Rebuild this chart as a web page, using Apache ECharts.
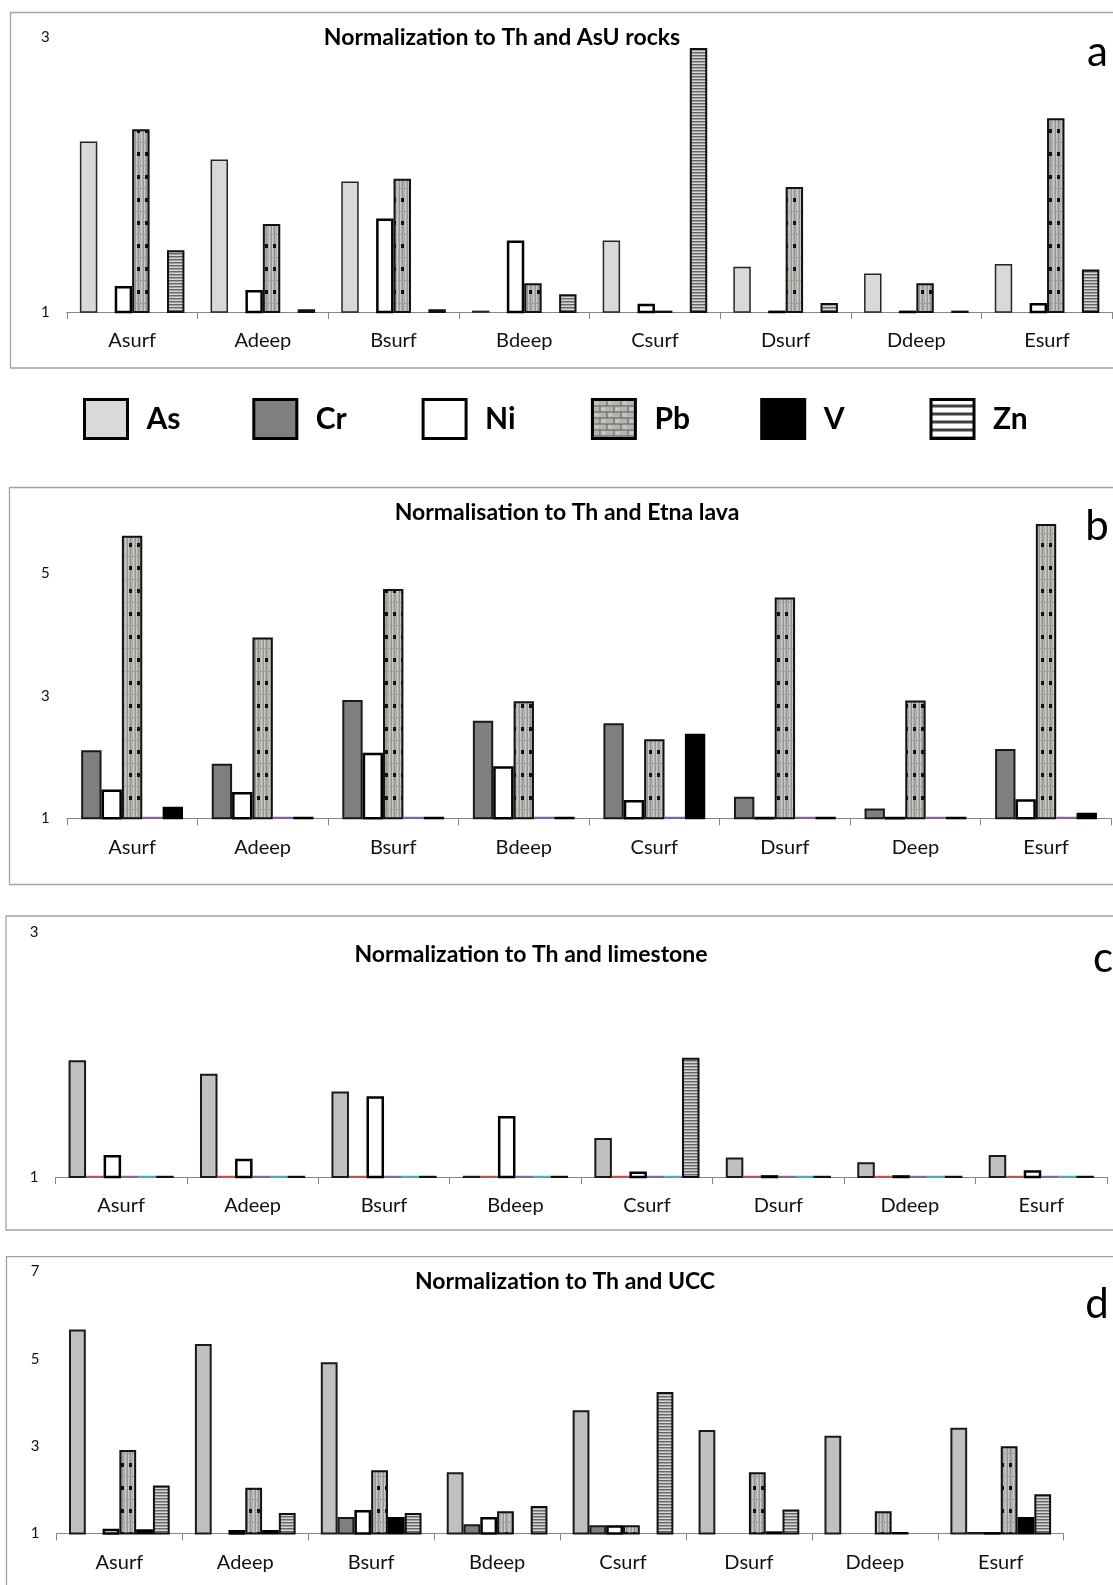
<!DOCTYPE html>
<html>
<head>
<meta charset="utf-8">
<script src="https://cdn.jsdelivr.net/npm/echarts@6/dist/echarts.min.js"></script>
<style>
  html, body { margin: 0; padding: 0; background: #ffffff; }
  #chart { width: 1113px; height: 1585px; }
</style>
</head>
<body>
<div id="chart"></div>
<script>
// ---- Categories (sampling sites) ----
const sitesA = ['Asurf', 'Adeep', 'Bsurf', 'Bdeep', 'Csurf', 'Dsurf', 'Ddeep', 'Esurf'];
const sitesB = ['Asurf', 'Adeep', 'Bsurf', 'Bdeep', 'Csurf', 'Dsurf', 'Deep', 'Esurf'];
const sitesC = ['Asurf', 'Adeep', 'Bsurf', 'Bdeep', 'Csurf', 'Dsurf', 'Ddeep', 'Esurf'];
const sitesD = ['Asurf', 'Adeep', 'Bsurf', 'Bdeep', 'Csurf', 'Dsurf', 'Ddeep', 'Esurf'];

// ---- Value-axis tick labels ----
const ticksA = [1, 3];
const ticksB = [1, 3, 5];
const ticksC = [1, 3];
const ticksD = [1, 3, 5, 7];

// ---- (a) Normalization to Th and AsU rocks ----
const aAs = [2.24, 2.11, 1.95, 1.01, 1.52, 1.33, 1.28, 1.35];
const aCr = [null, null, null, null, null, null, null, null];
const aNi = [1.19, 1.16, 1.68, 1.52, 1.06, 1.01, 1.01, 1.065];
const aPb = [2.33, 1.64, 1.97, 1.21, 1.01, 1.91, 1.21, 2.41];
const aV  = [null, null, null, null, null, null, null, null];
const aZn = [1.45, 1.02, 1.02, 1.13, 2.92, 1.065, 1.01, 1.31];

// ---- (b) Normalisation to Th and Etna lava ----
const bCr = [2.11, 1.89, 2.93, 2.59, 2.55, 1.35, 1.16, 2.13];
const bNi = [1.47, 1.43, 2.07, 1.85, 1.30, 1.025, 1.025, 1.31];
const bPb = [5.61, 3.95, 4.74, 2.91, 2.29, 4.60, 2.92, 5.80];
const bZn = [1.025, 1.025, 1.025, 1.025, 1.025, 1.025, 1.025, 1.025];
const bV  = [1.19, 1.025, 1.025, 1.025, 2.38, 1.025, 1.025, 1.09];

// ---- (c) Normalization to Th and limestone ----
const cAs = [1.955, 1.845, 1.70, 1.01, 1.32, 1.16, 1.12, 1.18];
const cCr = [1.01, 1.01, 1.01, 1.01, 1.01, 1.01, 1.01, 1.01];
const cNi = [1.18, 1.15, 1.66, 1.50, 1.045, 1.015, 1.015, 1.055];
const cPb = [1.01, 1.01, 1.01, 1.01, 1.01, 1.01, 1.01, 1.01];
const cV  = [1.01, 1.01, 1.01, 1.01, 1.01, 1.01, 1.01, 1.01];
const cZn = [1.01, 1.01, 1.01, 1.01, 1.976, 1.01, 1.01, 1.01];

// ---- (d) Normalization to Th and UCC ----
const dAs = [5.67, 5.34, 4.92, 2.40, 3.82, 3.37, 3.24, 3.42];
const dCr = [null, null, 1.38, 1.21, 1.19, null, null, 1.035];
const dNi = [1.11, 1.08, 1.54, 1.38, 1.19, null, null, 1.035];
const dPb = [2.91, 2.05, 2.45, 1.51, 1.19, 2.40, 1.51, 3.00];
const dV  = [1.10, 1.08, 1.38, null, null, 1.05, 1.035, 1.38];
const dZn = [2.10, 1.47, 1.47, 1.63, 4.24, 1.55, null, 1.90];

const elements = ['As', 'Cr', 'Ni', 'Pb', 'V', 'Zn'];

// ---- Fill textures ----
function makeCanvas(w, h) {
  const c = document.createElement('canvas');
  c.width = w; c.height = h;
  return c;
}
// weathered stone with rows of short dark dashes
function stoneTexture() {
  const c = makeCanvas(8, 23);
  const g = c.getContext('2d');
  g.fillStyle = '#adb0ab'; g.fillRect(0, 0, 8, 23);
  g.fillStyle = '#c6c9c4'; g.fillRect(0, 0, 1, 23); g.fillRect(5, 0, 1, 23);
  g.fillStyle = '#91948f'; g.fillRect(2, 0, 1, 23); g.fillRect(7, 0, 1, 23);
  g.fillStyle = '#9a9d98'; g.fillRect(0, 4, 2, 1); g.fillRect(4, 4, 2, 1);
  g.fillStyle = '#111111'; g.fillRect(1, 14, 3, 4);
  return c;
}
function stripeTexture() {
  const c = makeCanvas(4, 3);
  const g = c.getContext('2d');
  g.fillStyle = '#d6d6d6'; g.fillRect(0, 0, 4, 1);
  g.fillStyle = '#666666'; g.fillRect(0, 1, 4, 1);
  g.fillStyle = '#a3a3a3'; g.fillRect(0, 2, 4, 1);
  return c;
}
function brickTexture() {
  const c = makeCanvas(14, 12);
  const g = c.getContext('2d');
  g.fillStyle = '#b3b6b0'; g.fillRect(0, 0, 14, 12);
  g.fillStyle = '#c9ccc6'; g.fillRect(2, 2, 4, 3); g.fillRect(9, 8, 4, 3);
  g.fillStyle = '#5e605c';
  g.fillRect(0, 0, 14, 1); g.fillRect(0, 6, 14, 1);
  g.fillRect(0, 0, 1, 6); g.fillRect(7, 6, 1, 6);
  return c;
}
function bandTexture() {
  const c = makeCanvas(4, 8);
  const g = c.getContext('2d');
  g.fillStyle = '#ffffff'; g.fillRect(0, 0, 4, 8);
  g.fillStyle = '#3f3f3f'; g.fillRect(0, 5, 4, 3);
  return c;
}
const pbFill = { image: stoneTexture(), repeat: 'repeat' };
const znFill = { image: stripeTexture(), repeat: 'repeat' };
const pbKey = { image: brickTexture(), repeat: 'repeat' };
const znKey = { image: bandTexture(), repeat: 'repeat' };

// ---- Bar styles ----
const ST = {
  asLight: { color: '#d9d9d9', borderColor: '#262626', borderWidth: 1.5 },
  asMid:   { color: '#c0c0c0', borderColor: '#1a1a1a', borderWidth: 2 },
  cr:      { color: '#7f7f7f', borderColor: '#1a1a1a', borderWidth: 2 },
  ni:      { color: '#ffffff', borderColor: '#000000', borderWidth: 2.5 },
  pb:      { color: pbFill, borderColor: '#111111', borderWidth: 2 },
  v:       { color: '#000000', borderColor: '#000000', borderWidth: 2 },
  zn:      { color: znFill, borderColor: '#111111', borderWidth: 2 },
  red:     { color: '#c0504d', borderColor: '#c0504d', borderWidth: 1.5 },
  purple:  { color: '#8064a2', borderColor: '#8064a2', borderWidth: 1.5 },
  aqua:    { color: '#4bacc6', borderColor: '#4bacc6', borderWidth: 1.5 }
};

// ---- Panel layout ----
const panels = [
  { grid: { left: 66.8, top: 37, width: 1045.6, height: 275 }, sites: sitesA, min: 1, max: 3, ticks: ticksA, gap: '20%',
    series: [['As', aAs, ST.asLight], ['Cr', aCr, ST.cr], ['Ni', aNi, ST.ni], ['Pb', aPb, ST.pb], ['V', aV, ST.v], ['Zn', aZn, ST.zn]] },
  { grid: { left: 66.8, top: 511.8, width: 1044.5, height: 306.5 }, sites: sitesB, min: 1, max: 6, ticks: ticksB, gap: '22%',
    series: [['Cr', bCr, ST.cr], ['Ni', bNi, ST.ni], ['Pb', bPb, ST.pb], ['Zn', bZn, ST.purple], ['V', bV, ST.v]] },
  { grid: { left: 55.4, top: 932.5, width: 1051.6, height: 244.5 }, sites: sitesC, min: 1, max: 3, ticks: ticksC, gap: '20%',
    series: [['As', cAs, ST.asMid], ['Cr', cCr, ST.red], ['Ni', cNi, ST.ni], ['Pb', cPb, ST.purple], ['V', cV, ST.aqua], ['Zn', cZn, ST.zn]] },
  { grid: { left: 56.4, top: 1271.5, width: 1007.3, height: 262 }, sites: sitesD, min: 1, max: 7, ticks: ticksD, gap: '20%',
    series: [['As', dAs, ST.asMid], ['Cr', dCr, ST.cr], ['Ni', dNi, ST.ni], ['Pb', dPb, ST.pb], ['V', dV, ST.v], ['Zn', dZn, ST.zn]] }
];

const FONT = 'Lato, "Open Sans", sans-serif';
const grids = [], xAxes = [], yAxes = [], seriesList = [];

panels.forEach((p, i) => {
  grids.push(Object.assign({ containLabel: false, outerBoundsMode: 'none' }, p.grid));
  xAxes.push({
    type: 'category', gridIndex: i, data: p.sites,
    axisLine: { show: true, onZero: false, lineStyle: { color: '#868686', width: 1 } },
    axisTick: { show: true, length: 7, lineStyle: { color: '#868686', width: 1 } },
    axisLabel: { interval: 0, margin: 19, fontSize: 20, fontFamily: FONT, color: '#111111' },
    splitLine: { show: false }
  });
  yAxes.push({
    type: 'value', gridIndex: i, min: p.min, max: p.max, interval: 2,
    axisLine: { show: false }, axisTick: { show: false }, splitLine: { show: false },
    axisLabel: {
      margin: 17, fontSize: 15, fontFamily: FONT, color: '#111111',
      formatter: v => (p.ticks.indexOf(v) >= 0 ? String(v) : '')
    }
  });
  p.series.forEach(([name, data, style]) => {
    seriesList.push({
      type: 'bar', name: name, data: data,
      xAxisIndex: i, yAxisIndex: i,
      barGap: '0%', barCategoryGap: p.gap,
      clip: true, silent: true, animation: false,
      itemStyle: style,
      emphasis: { disabled: true }
    });
  });
});

// ---- Shared key: one legend entry per element, evenly spread ----
const keyFill = { Pb: pbKey, Zn: znKey };
const legends = elements.map((name, k) => {
  const item = { name: name };
  if (keyFill[name]) item.itemStyle = { color: keyFill[name] };
  return {
    left: 83 + k * 169.3, top: 398,
    padding: 0,
    icon: 'rect',
    itemWidth: 43, itemHeight: 39,
    selectedMode: false,
    itemStyle: { borderColor: '#000000', borderWidth: 3 },
    textStyle: { fontFamily: FONT, fontWeight: 'bold', fontSize: 30, color: '#000000', padding: [0, 0, 0, 14] },
    data: [item]
  };
});

// ---- Frames, titles and panel letters ----
const frames = [
  { x: 10.5, y: 12.5, w: 1130, h: 355.5 },
  { x: 9.5, y: 487.5, w: 1130, h: 397 },
  { x: 6, y: 916, w: 1130, h: 314 },
  { x: 6.5, y: 1256.7, w: 1130, h: 400 }
];
const titles = [
  { text: 'Normalization to Th and AsU rocks', x: 502, y: 37.5 },
  { text: 'Normalisation to Th and Etna lava', x: 567, y: 513 },
  { text: 'Normalization to Th and limestone', x: 531, y: 955 },
  { text: 'Normalization to Th and UCC', x: 565, y: 1281.5 }
];
const letters = [
  { text: 'a', x: 1097.5, y: 52 },
  { text: 'b', x: 1097, y: 526 },
  { text: 'c', x: 1103, y: 958 },
  { text: 'd', x: 1097, y: 1304 }
];

const graphics = [];
frames.forEach(f => graphics.push({
  type: 'rect', silent: true, z: -1,
  shape: { x: f.x, y: f.y, width: f.w, height: f.h },
  style: { fill: null, stroke: '#a3a3a3', lineWidth: 1.3 }
}));
titles.forEach(t => graphics.push({
  type: 'text', silent: true, x: t.x, y: t.y,
  style: { text: t.text, fill: '#000000', font: 'bold 23px ' + FONT, textAlign: 'center', textVerticalAlign: 'middle' }
}));
letters.forEach(t => graphics.push({
  type: 'text', silent: true, x: t.x, y: t.y,
  style: { text: t.text, fill: '#000000', font: '42px ' + FONT, textAlign: 'center', textVerticalAlign: 'middle' }
}));

const chart = echarts.init(document.getElementById('chart'), null, { renderer: 'canvas' });
chart.setOption({
  backgroundColor: '#ffffff',
  animation: false,
  grid: grids,
  xAxis: xAxes,
  yAxis: yAxes,
  legend: legends,
  graphic: graphics,
  series: seriesList
});
</script>
</body>
</html>
